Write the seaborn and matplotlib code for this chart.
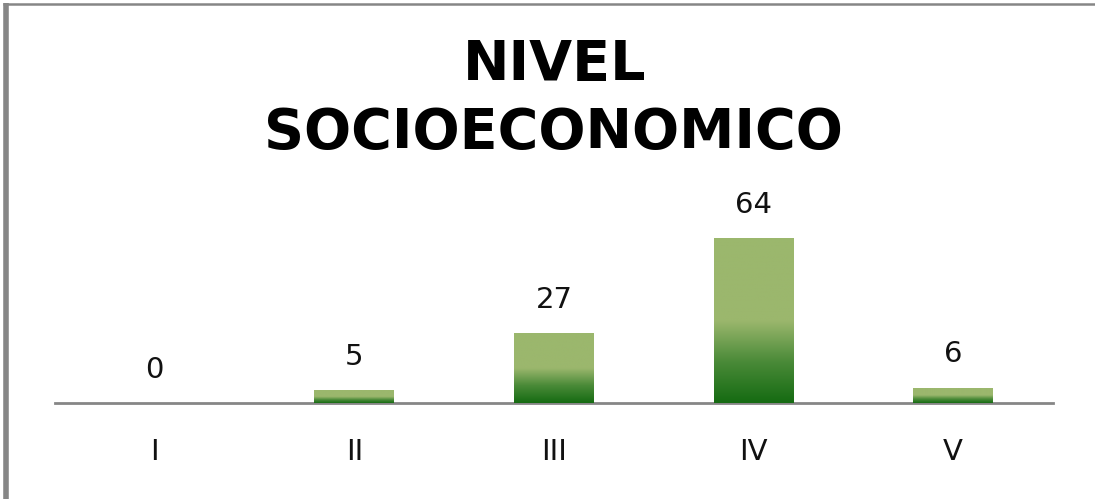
import numpy as np
import pandas as pd
import matplotlib
matplotlib.use("Agg")
import matplotlib.pyplot as plt
from matplotlib.lines import Line2D
from matplotlib.colors import LinearSegmentedColormap
import seaborn as sns

categories = ["I", "II", "III", "IV", "V"]
values = [0, 5, 27, 64, 6]
title_lines = ["NIVEL", "SOCIOECONOMICO"]

sns.set_theme(style="white")
plt.rcParams["font.family"] = ["DejaVu Sans"]

W, H = 1095, 499
fig = plt.figure(figsize=(W / 100, H / 100), dpi=100)
fig.patch.set_facecolor("white")
ax = fig.add_axes([55 / W, (H - 403) / H, (1053 - 55) / W, 206 / H])

df = pd.DataFrame({"cat": categories, "val": values})
sns.barplot(data=df, x="cat", y="val", ax=ax, width=0.4, color="#9BB76D",
            edgecolor="none", linewidth=0)

light = "#9BB76D"
dark = "#156B12"
gcmap = LinearSegmentedColormap.from_list(
    "g2", [(0.0, dark), (0.25, "#4A8A38"), (0.5, light), (1.0, light)])
grad = np.linspace(0, 1, 256).reshape(-1, 1)
for p in ax.patches:
    h = p.get_height()
    if h <= 0:
        continue
    x0 = p.get_x(); w = p.get_width()
    im = ax.imshow(grad, extent=[x0, x0 + w, 0, h], origin="lower", aspect="auto",
                   cmap=gcmap, zorder=3)
    im.set_clip_path(p)
ax.set_xlim(-0.5, 4.5)
ax.set_ylim(0, 80)

for i, v in enumerate(values):
    ax.annotate(str(v), xy=(i, v), xytext=(0, 14), textcoords="offset points",
                ha="center", va="bottom", fontsize=21, color="#111111",
                family="DejaVu Sans")

sns.despine(ax=ax, left=True, top=True, right=True)
ax.spines["bottom"].set_color("#868686")
ax.spines["bottom"].set_linewidth(2)
ax.set_yticks([])
ax.set_xlabel("")
ax.set_ylabel("")
ax.tick_params(axis="x", length=0, pad=25, labelsize=21, labelcolor="#111111")
for t in ax.get_xticklabels():
    t.set_family("DejaVu Sans")
ax.set_facecolor("white")

fig.text(555 / W, 1 - 80 / H, title_lines[0], ha="center", va="baseline",
         fontsize=40, fontweight="bold", color="black", family="DejaVu Sans")
fig.text(553 / W, 1 - 148 / H, title_lines[1], ha="center", va="baseline",
         fontsize=40, fontweight="bold", color="black", family="DejaVu Sans")

fig.add_artist(Line2D([5.5 / W, 5.5 / W], [0, 1 - 3 / H], color="#868686", lw=4,
                      solid_capstyle="butt", transform=fig.transFigure))
fig.add_artist(Line2D([3 / W, 1], [1 - 4 / H, 1 - 4 / H], color="#868686", lw=1.8,
                      solid_capstyle="butt", transform=fig.transFigure))

fig.savefig("out.png", dpi=100, facecolor="white")
